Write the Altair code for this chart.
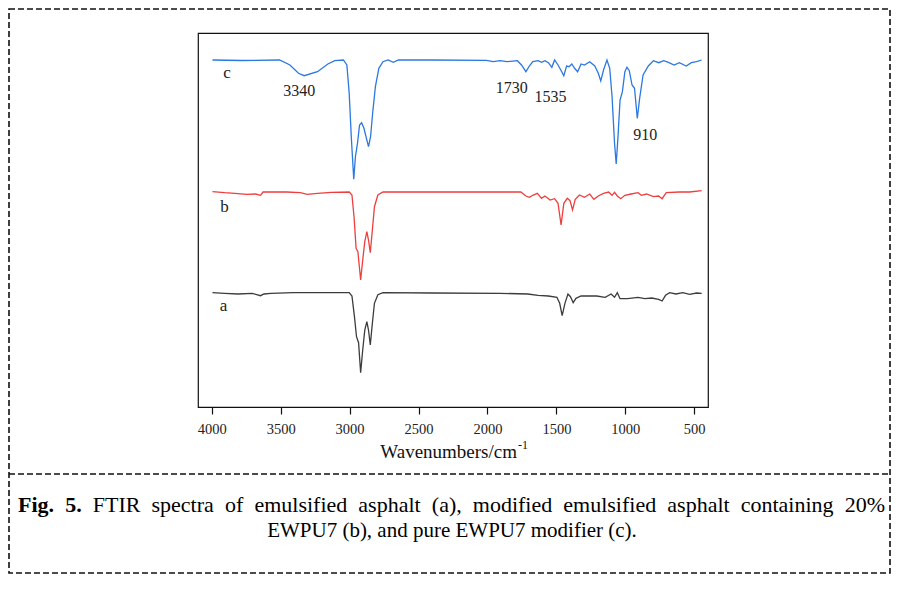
import altair as alt
import pandas as pd

# ---- spectra (wavenumber, relative transmittance, arbitrary units) ----
wn_c = [3995, 3783, 3508, 3433, 3371, 3330, 3233, 3158, 3108, 3045, 3020, 3003, 2988, 2970, 2958, 2943,
        2928, 2913, 2896, 2878, 2863, 2848, 2833, 2813, 2788, 2758, 2721, 2683, 2646, 2408, 2008, 1958,
        1908, 1858, 1783, 1753, 1721, 1696, 1671, 1633, 1608, 1583, 1558, 1533, 1513, 1488, 1471, 1446,
        1426, 1408, 1388, 1368, 1346, 1321, 1296, 1258, 1221, 1196, 1178, 1158, 1133, 1113, 1096, 1078,
        1066, 1053, 1038, 1021, 1003, 988, 971, 951, 933, 913, 896, 871, 833, 796, 758, 721, 683, 646,
        608, 558, 521, 483, 446]
val_c = [347, 346.5, 347, 342, 333.7, 331.3, 335.3, 343, 346.3, 347, 342, 313.7, 270.3, 227.7, 250.3, 263.7,
         282, 284.3, 278.7, 268.7, 260.3, 270.3, 293.7, 320.3, 338.7, 345.3, 347, 344.7, 347, 347, 346.7, 345.3,
         346.3, 345.3, 346.3, 342, 335.3, 341, 345.3, 346.3, 344.7, 346.3, 344.3, 339.7, 347, 342, 337.7, 331.3,
         341, 340.3, 343, 338.7, 335.3, 343, 342, 345.3, 341, 333.7, 326, 337, 347, 338.7, 310.3, 263.7,
         243, 270.3, 307, 315.3, 335.3, 339.7, 336.3, 322, 318.7, 288.7, 308.7, 332, 341, 346.3, 344.3, 346.3,
         344.3, 342, 344.3, 341, 344.3, 345.3, 347]

wn_b = [3995, 3907, 3832, 3745, 3683, 3646, 3628, 3458, 3358, 3308, 3233, 3133, 3003, 2983, 2968, 2953,
        2940, 2920, 2905, 2890, 2875, 2863, 2850, 2835, 2820, 2795, 2758, 1758, 1721, 1696, 1671, 1638,
        1608, 1583, 1546, 1513, 1488, 1466, 1446, 1421, 1401, 1383, 1363, 1333, 1296, 1258, 1228, 1196,
        1158, 1121, 1096, 1078, 1058, 1033, 1003, 958, 908, 883, 846, 796, 758, 733, 703, 608, 533, 446]
val_b = [215.3, 214.3, 213.7, 212.7, 213, 211.7, 215, 215, 214.3, 212.7, 213.7, 214.7, 215, 212, 190.3, 158.7,
         155.3, 127, 147, 165.3, 175.3, 167, 154.3, 177, 200.3, 212, 215, 215, 211, 209.7, 211.7, 213.7,
         208.7, 211, 207, 208.3, 203.7, 182, 203.7, 208.7, 206.3, 197, 207.7, 212, 209.7, 213, 207.7, 211,
         213.7, 215, 211.7, 214.7, 211, 208.3, 211.7, 213, 214.3, 211.7, 213, 210.3, 211, 208.3, 214.3, 215, 215, 216.3]

wn_a = [3995, 3907, 3808, 3708, 3646, 3621, 3571, 3408, 3158, 3003, 2983, 2965, 2950, 2935, 2920, 2905,
        2890, 2875, 2863, 2850, 2835, 2820, 2795, 2758, 2408, 1908, 1708, 1633, 1558, 1496, 1476, 1458,
        1438, 1416, 1398, 1378, 1358, 1321, 1208, 1146, 1103, 1078, 1058, 1038, 983, 908, 858, 808,
        758, 733, 708, 678, 633, 583, 533, 483, 446]
val_a = [114.3, 113.7, 113, 113.7, 111.3, 113, 113.7, 114.3, 114.3, 114.3, 111, 90.3, 70.3, 64.3, 34.3, 57,
         77, 85.3, 77, 62, 83.7, 103.7, 112.3, 114.3, 114, 113.7, 113, 111.7, 111, 109.7, 103.7, 91.3,
         103.7, 113, 110.3, 104.3, 108.7, 111, 111, 109.7, 113, 109.7, 114.3, 108.3, 108.3, 109.7, 108.3, 109,
         107.7, 106, 111.7, 114.3, 113, 114.3, 112.7, 114, 113.7]

series_names = ["a", "b", "c"]
series_colors = ["#3c3c3c", "#ef3e3e", "#2b78e0"]

# curve letters
letter_text = ["c", "b", "a"]
letter_wn = [3890, 3908, 3915]
letter_val = [329, 195, 96]

# peak annotations
peak_text = ["3340", "1730", "1535", "910"]
peak_wn = [3365, 1824, 1543, 855]
peak_val = [311, 313.7, 305.3, 267]

x_ticks = list(range(4000, 250, -250))

# caption (first line is justified across the box, so each word is placed on its own)
caption_words = ["Fig.", "5.", "FTIR", "spectra", "of", "emulsified", "asphalt", "(a),", "modified",
                 "emulsified", "asphalt", "containing", "20%"]
caption_bold = [True, True] + [False] * 11
caption_left = [18, 65.2, 92.8, 151.5, 224.9, 254.4, 358.3, 431.8, 472.8, 563.3, 667.3, 740.7, 844.7]
caption_line2 = "EWPU7 (b), and pure EWPU7 modifier (c)."

SERIF = "Liberation Serif"
W, H = 510, 374
PAD_L, PAD_T = 190, 25
TOTAL_W, TOTAL_H = 883, 566

frames = []
for name, w, v in [("a", wn_a, val_a), ("b", wn_b, val_b), ("c", wn_c, val_c)]:
    frames.append(pd.DataFrame({"wn": w, "val": v, "series": name, "order": range(len(w))}))
df = pd.concat(frames, ignore_index=True)

xscale = alt.Scale(domain=[400, 4100], reverse=True, nice=False, zero=False)
yscale = alt.Scale(domain=[0, 374], nice=False, zero=False)

lines = alt.Chart(df).mark_line(strokeWidth=1.3).encode(
    x=alt.X("wn:Q", scale=xscale,
            axis=alt.Axis(values=x_ticks, title=None, domain=False, grid=False, format="d",
                          labelExpr="datum.value % 500 === 0 ? datum.label : ''",
                          tickSize={"condition": {"test": "datum.value % 500 === 0", "value": 7}, "value": 4},
                          tickColor="#111", tickWidth=1.2,
                          labelFont=SERIF, labelFontSize=14.5, labelColor="#222",
                          labelPadding=8, labelFlush=False, labelOverlap=False)),
    y=alt.Y("val:Q", scale=yscale, axis=None),
    color=alt.Color("series:N", scale=alt.Scale(domain=series_names, range=series_colors), legend=None),
    detail="series:N",
    order="order:Q",
)

letters = alt.Chart(pd.DataFrame({"wn": letter_wn, "val": letter_val, "t": letter_text})).mark_text(
    font=SERIF, fontSize=17, color="#222", baseline="alphabetic", align="center"
).encode(x=alt.X("wn:Q", scale=xscale), y=alt.Y("val:Q", scale=yscale), text="t:N")

peaks = alt.Chart(pd.DataFrame({"wn": peak_wn, "val": peak_val, "t": peak_text})).mark_text(
    font=SERIF, fontSize=16, color="#222", baseline="alphabetic", align="center"
).encode(x=alt.X("wn:Q", scale=xscale), y=alt.Y("val:Q", scale=yscale), text="t:N")

one = pd.DataFrame({"k": [0]})

title_main = alt.Chart(one).mark_text(
    font=SERIF, fontSize=19, color="#111", align="right", baseline="alphabetic", text="Wavenumbers/cm"
).encode(x=alt.value(319), y=alt.value(425))
title_sup = alt.Chart(one).mark_text(
    font=SERIF, fontSize=12, color="#111", align="left", baseline="alphabetic", text="-1"
).encode(x=alt.value(320), y=alt.value(416))

bx0, bx1 = 1 - PAD_L, TOTAL_W - 1 - PAD_L
by0, by1 = 1 - PAD_T, TOTAL_H - 1 - PAD_T

border = alt.Chart(one).mark_rect(
    filled=False, stroke="#111", strokeWidth=1.6, strokeDash=[6, 3]
).encode(x=alt.value(bx0), x2=alt.value(bx1), y=alt.value(by0), y2=alt.value(by1))

divider = alt.Chart(one).mark_rule(
    stroke="#111", strokeWidth=1.6, strokeDash=[6, 3]
).encode(x=alt.value(bx0), x2=alt.value(bx1), y=alt.value(441))

cap_df = pd.DataFrame({"w": caption_words, "bold": caption_bold,
                       "px": [v - 198 for v in caption_left]})
cap1_bold = alt.Chart(cap_df[cap_df["bold"]]).mark_text(
    font=SERIF, fontSize=22, fontWeight="bold", color="#000", align="left", baseline="alphabetic"
).encode(x=alt.X("px:Q", scale=None), y=alt.value(479), text="w:N")
cap1_reg = alt.Chart(cap_df[~cap_df["bold"]]).mark_text(
    font=SERIF, fontSize=22, color="#000", align="left", baseline="alphabetic"
).encode(x=alt.X("px:Q", scale=None), y=alt.value(479), text="w:N")
cap2 = alt.Chart(one).mark_text(
    font=SERIF, fontSize=21, color="#000", align="center", baseline="alphabetic", text=caption_line2
).encode(x=alt.value(254), y=alt.value(504))

chart = alt.layer(
    lines, letters, peaks, title_main, title_sup, border, divider, cap1_bold, cap1_reg, cap2
).properties(
    width=W, height=H,
    padding={"left": PAD_L, "top": PAD_T, "right": TOTAL_W - PAD_L - W, "bottom": TOTAL_H - PAD_T - H},
    autosize="none",
).configure_view(stroke="#111", strokeWidth=1.2)

chart.save("out.html", embed_options={"renderer": "svg", "actions": False})
